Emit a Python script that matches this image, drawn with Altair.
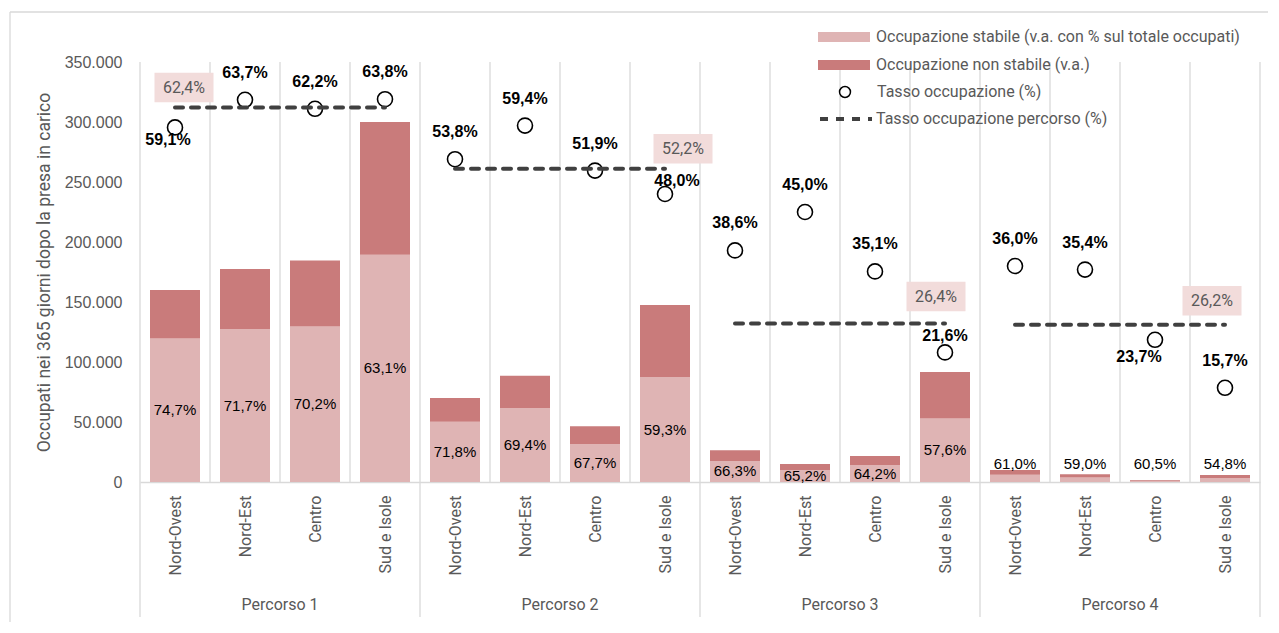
import json
import altair as alt
import pandas as pd

# ---------------- data ----------------
regioni = ["Nord-Ovest", "Nord-Est", "Centro", "Sud e Isole"]
percorsi = ["Percorso 1", "Percorso 2", "Percorso 3", "Percorso 4"]
occupati_totali = [160000, 177500, 184500, 300000,
                   70000, 88500, 46500, 147500,
                   26500, 15000, 21700, 91700,
                   10000, 6400, 1700, 5800]
quota_stabile = [74.7, 71.7, 70.2, 63.1,
                 71.8, 69.4, 67.7, 59.3,
                 66.3, 65.2, 64.2, 57.6,
                 61.0, 59.0, 60.5, 54.8]
tasso_occupazione = [59.1, 63.7, 62.2, 63.8,
                     53.8, 59.4, 51.9, 48.0,
                     38.6, 45.0, 35.1, 21.6,
                     36.0, 35.4, 23.7, 15.7]
tasso_percorso = [62.4, 52.2, 26.4, 26.2]
y_ticks = [0, 50000, 100000, 150000, 200000, 250000, 300000, 350000]

L0 = "Occupazione stabile (v.a. con % sul totale occupati)"
L1 = "Occupazione non stabile (v.a.)"
L2 = "Tasso occupazione (%)"
L3 = "Tasso occupazione percorso (%)"

# ---------------- styles / layout ----------------
C_STAB = "#dfb4b4"
C_NONSTAB = "#c97b7b"
C_DASH = "#404040"
C_GRID = "#d9d9d9"
C_TXT = "#595959"
C_BOX = "#f2dcdb"
W, H = 1120, 420
NCAT = len(regioni) * len(percorsi)
DASH = [8, 8]

CIRCLE_LABEL_DEFAULT = (0, -27)
CIRCLE_LABEL_SPECIAL = {0: (-7, 13), 7: (12, -13), 11: (0, -16), 14: (-16, 17)}
PATH_LABEL_LAYOUT = [("start", 9, -20), ("end", 18, -20), ("end", -9, -27), ("end", -13, -24)]


def pct(v):
    return f"{v:.1f}%".replace(".", ",")


df = pd.DataFrame({
    "idx": list(range(NCAT)),
    "regione": regioni * len(percorsi),
    "percorso": [p for p in percorsi for _ in regioni],
    "totale": occupati_totali,
    "quota": quota_stabile,
    "tasso": tasso_occupazione,
})
df["stabile"] = df["totale"] * df["quota"] / 100.0
df["quota_lbl"] = df["quota"].map(pct)
df["tasso_lbl"] = df["tasso"].map(pct)
df["serie_c"] = L2

bars = pd.concat([
    pd.DataFrame({"idx": df["idx"], "serie": L0, "y0": 0.0, "y1": df["stabile"]}),
    pd.DataFrame({"idx": df["idx"], "serie": L1, "y0": df["stabile"], "y1": df["totale"]}),
], ignore_index=True)

nreg = len(regioni)
pdf = pd.DataFrame({
    "percorso": percorsi,
    "start": [g * nreg for g in range(len(percorsi))],
    "end": [g * nreg + nreg - 1 for g in range(len(percorsi))],
    "tasso": tasso_percorso,
})
pdf["center"] = (pdf["start"] + pdf["end"]) / 2.0
pdf["lbl"] = pdf["tasso"].map(pct)
pdf["serie_d"] = L3

bounds = pd.DataFrame({"b": [i - 0.5 for i in range(NCAT + 1)]})
gbounds = pd.DataFrame({"b": [g * nreg - 0.5 for g in range(len(percorsi) + 1)]})

XSCALE = alt.Scale(domain=[-0.5, NCAT - 0.5], nice=False, zero=False, padding=0)
YSCALE = alt.Scale(domain=[0, 350000], nice=False, zero=True)
RSCALE = alt.Scale(domain=[0, 70], nice=False, zero=True)

label_expr = json.dumps(regioni) + "[datum.value % " + str(nreg) + "]"
x_axis = alt.Axis(values=list(range(NCAT)), labelExpr=label_expr, labelAngle=270,
                  labelAlign="right", labelBaseline="middle", labelPadding=13,
                  labelFont="Roboto", labelFontSize=16, labelColor=C_TXT,
                  labelOverlap=False, labelFlush=False, labelBound=False,
                  ticks=False, grid=False, domain=True, domainColor=C_GRID,
                  domainWidth=1.3, title=None)
y_axis = alt.Axis(values=y_ticks,
                  labelExpr="datum.value == 0 ? '0' : format(datum.value / 1000, 'd') + '.000'",
                  labelFont="Liberation Sans", labelFontSize=16, labelColor=C_TXT,
                  labelPadding=18, ticks=False, domain=False, grid=False,
                  title="Occupati nei 365 giorni dopo la presa in carico",
                  titleFont="Roboto", titleFontSize=17.5, titleFontWeight="normal",
                  titleColor=C_TXT, titlePadding=11)


def X(field):
    return alt.X(field, scale=XSCALE, axis=x_axis, title=None)


RECT_PATH = "M-1,-0.19L1,-0.19L1,0.19L-1,0.19Z"
CIRC_PATH = "M-0.21,0A0.21,0.21 0 1,0 0.21,0A0.21,0.21 0 1,0 -0.21,0Z"
LEG_X = 678
LEG_COMMON = dict(orient="none", title=None, labelFont="Roboto", labelFontSize=16,
                  labelColor=C_TXT, labelLimit=600, padding=0, symbolSize=2704, clipHeight=20)

leg_bars = alt.Legend(legendX=LEG_X, legendY=-35, symbolType=RECT_PATH,
                      rowPadding=8, labelOffset=6, symbolStrokeWidth=0, **LEG_COMMON)
leg_circ = alt.Legend(legendX=LEG_X, legendY=20, symbolType=CIRC_PATH, labelOffset=5,
                      symbolStrokeColor="#000000", symbolStrokeWidth=1.5, symbolOpacity=1,
                      **LEG_COMMON)
leg_dash = alt.Legend(legendX=LEG_X, legendY=47, symbolType="stroke", labelOffset=2,
                      symbolStrokeColor=C_DASH, symbolStrokeWidth=4, symbolDash=DASH,
                      **LEG_COMMON)

layers = []

layers.append(alt.Chart(bounds).mark_rule(color=C_GRID, strokeWidth=1.3).encode(
    x=X("b:Q"), y=alt.value(0), y2=alt.value(H)))
layers.append(alt.Chart(gbounds).mark_rule(color=C_GRID, strokeWidth=1.3).encode(
    x=X("b:Q"), y=alt.value(H), y2=alt.value(H + 135)))
layers.append(alt.Chart(pd.DataFrame({"k": [0]})).mark_rule(color=C_GRID, strokeWidth=1.3).encode(
    x=alt.value(-130), x2=alt.value(W + 200), y=alt.value(-50)))
layers.append(alt.Chart(pd.DataFrame({"k": [0]})).mark_rule(color=C_GRID, strokeWidth=1.3).encode(
    x=alt.value(-130), y=alt.value(-50), y2=alt.value(H + 200)))

layers.append(alt.Chart(bars).mark_bar(size=50).encode(
    x=X("idx:Q"),
    y=alt.Y("y0:Q", scale=YSCALE, axis=y_axis),
    y2="y1:Q",
    color=alt.Color("serie:N", scale=alt.Scale(domain=[L0, L1], range=[C_STAB, C_NONSTAB]),
                    legend=leg_bars),
))

p4_start = (len(percorsi) - 1) * nreg
layers.append(alt.Chart(df[df["idx"] < p4_start]).transform_calculate(
    ymid="datum.stabile / 2").mark_text(
    font="Liberation Sans", fontSize=15, color="#000000", baseline="middle").encode(
    x=X("idx:Q"),
    y=alt.Y("ymid:Q", scale=YSCALE, axis=None),
    text="quota_lbl:N"))
layers.append(alt.Chart(df[df["idx"] >= p4_start]).mark_text(
    font="Liberation Sans", fontSize=15, color="#000000", baseline="middle").encode(
    x=X("idx:Q"),
    y=alt.value(402),
    text="quota_lbl:N"))

layers.append(alt.Chart(df).mark_point(shape=CIRC_PATH, size=5100, filled=True,
                                       stroke="#000000", strokeWidth=1.6, opacity=1,
                                       fillOpacity=1).encode(
    x=X("idx:Q"),
    y=alt.Y("tasso:Q", scale=RSCALE, axis=None),
    fill=alt.Fill("serie_c:N", scale=alt.Scale(domain=[L2], range=["#ffffff"]),
                  legend=leg_circ)))

layers.append(alt.Chart(pdf).mark_rule(color=C_DASH, strokeWidth=4, strokeCap="round").encode(
    x=X("start:Q"), x2="end:Q",
    y=alt.Y("tasso:Q", scale=RSCALE, axis=None),
    strokeDash=alt.StrokeDash("serie_d:N", scale=alt.Scale(domain=[L3], range=[DASH]),
                              legend=leg_dash)))

default_idx = [i for i in range(NCAT) if i not in CIRCLE_LABEL_SPECIAL]
groups = [(default_idx, CIRCLE_LABEL_DEFAULT)] + [([i], off) for i, off in CIRCLE_LABEL_SPECIAL.items()]
for idxs, (dx, dy) in groups:
    layers.append(alt.Chart(df[df["idx"].isin(idxs)]).mark_text(
        font="Liberation Sans", fontSize=16, fontWeight="bold", color="#000000",
        baseline="middle", dx=dx, dy=dy).encode(
        x=X("idx:Q"),
        y=alt.Y("tasso:Q", scale=RSCALE, axis=None),
        text="tasso_lbl:N"))

for g, (anchor, dx, dy) in enumerate(PATH_LABEL_LAYOUT):
    sub = pdf.iloc[[g]]
    layers.append(alt.Chart(sub).mark_point(shape="M-1,-0.5L1,-0.5L1,0.5L-1,0.5Z", size=3481,
                                            filled=True, fill=C_BOX, opacity=1, strokeWidth=0,
                                            xOffset=dx, yOffset=dy).encode(
        x=X(f"{anchor}:Q"),
        y=alt.Y("tasso:Q", scale=RSCALE, axis=None)))
    layers.append(alt.Chart(sub).mark_text(font="Roboto", fontSize=16, color=C_TXT,
                                           baseline="middle", dx=dx, dy=dy).encode(
        x=X(f"{anchor}:Q"),
        y=alt.Y("tasso:Q", scale=RSCALE, axis=None),
        text="lbl:N"))

layers.append(alt.Chart(pdf).mark_text(font="Roboto", fontSize=16, color=C_TXT,
                                       baseline="middle").encode(
    x=X("center:Q"),
    y=alt.value(H + 123),
    text="percorso:N"))

chart = alt.layer(*layers).resolve_scale(y="independent").properties(
    width=W, height=H,
    padding={"left": 132, "top": 54, "right": 8, "bottom": 140},
    autosize=alt.AutoSizeParams(type="none"),
    background="#ffffff",
).configure_view(stroke=None)

chart.save("out.html", embed_options={"renderer": "svg", "actions": False})
